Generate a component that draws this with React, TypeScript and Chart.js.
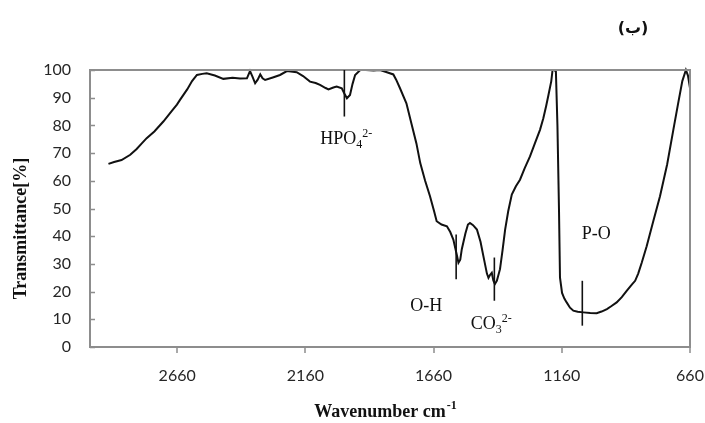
import React, { useEffect, useRef } from 'react';
import { Chart, registerables } from 'chart.js';

Chart.register(...registerables);

// FTIR spectrum: wavenumber (cm-1) against transmittance (%)
const wavenumbers = [
  2928, 2906, 2877, 2843, 2818, 2798, 2779, 2749, 2714, 2680, 2661, 2649, 2621, 2602, 2583, 2562,
  2545, 2513, 2480, 2444, 2415, 2388, 2376, 2366, 2356, 2346, 2336, 2327, 2317, 2287, 2259, 2232,
  2209, 2194, 2169, 2142, 2120, 2103, 2081, 2070, 2051, 2038, 2018, 2008, 1998, 1986, 1976, 1966,
  1946, 1924, 1894, 1869, 1845, 1817, 1806, 1791, 1766, 1746, 1727, 1712, 1693, 1674, 1658, 1648,
  1629, 1608, 1595, 1583, 1570, 1563, 1556, 1550, 1536, 1526, 1518, 1506, 1491, 1477, 1466, 1452,
  1446, 1440, 1433, 1427, 1421, 1413, 1401, 1391, 1381, 1369, 1355, 1339, 1323, 1305, 1284, 1265,
  1245, 1232, 1221, 1212, 1201, 1196, 1190, 1183, 1177, 1171, 1167, 1159, 1150, 1141, 1128, 1115,
  1098, 1076, 1049, 1024, 1005, 984, 966, 946, 926, 907, 887, 874, 862, 848, 829, 803,
  777, 749, 725, 705, 690, 676, 668, 660,
];

const transmittance = [
  66.1, 66.8, 67.5, 69.4, 71.5, 73.5, 75.4, 77.8, 81.4, 85.3, 87.5, 89.2, 93.0, 96.0, 98.2, 98.6,
  98.8, 98.0, 96.8, 97.2, 96.9, 97.0, 99.6, 97.5, 95.2, 96.5, 98.4, 97.0, 96.4, 97.3, 98.2, 99.6,
  99.4, 99.2, 97.8, 95.8, 95.3, 94.6, 93.5, 93.0, 93.7, 94.0, 93.4, 91.5, 89.8, 91.0, 95.0, 98.2,
  100, 100, 99.8, 100, 99.3, 98.4, 96.5, 93.4, 88.0, 80.5, 73.5, 66.4, 60.0, 54.4, 49.0, 45.4,
  44.2, 43.6, 41.5, 38.8, 33.5, 30.4, 31.5, 35.3, 41.0, 44.2, 44.8, 44.0, 42.4, 38.0, 32.9, 26.5,
  25.0, 26.0, 26.8, 24.0, 22.7, 24.0, 28.1, 35.0, 42.4, 49.0, 55.0, 58.0, 60.4, 64.5, 68.8, 73.5,
  78.4, 82.6, 87.0, 91.0, 96.0, 100, 100, 99.5, 80, 50, 25, 19.5, 17.5, 16.1, 14.2, 13.1,
  12.7, 12.5, 12.3, 12.2, 12.8, 13.7, 14.8, 16.1, 18.0, 20.3, 22.5, 23.9, 26.5, 30.5, 36.4, 45.5,
  54.4, 66.0, 78.4, 88.6, 96.0, 100, 98.0, 93.5,
];

const xTickValues = [2660, 2160, 1660, 1160, 660];
const xMin = 660;
const xMax = 3000;
const yMin = 0;
const yMax = 100;
const yStep = 10;

// Band assignments: "_" marks a one-character subscript, "^" starts a superscript
const bandLabels = ['HPO_4^2-', 'O-H', 'CO_3^2-', 'P-O'];
const bandWavenumbers = [2008, 1572, 1423, 1080];
const bandLineTop = [100, 40.6, 32.3, 23.9];
const bandLineBottom = [83.2, 24.5, 16.7, 7.7];

const panelLabel = '(ب)';
const xTitle = 'Wavenumber cm';
const xTitleSup = '-1';
const yTitle = 'Transmittance[%]';

const AXIS_COLOR = '#8d8d8d';
const TEXT_COLOR = '#262626';
const SERIF = '"Liberation Serif", "Times New Roman", serif';
const SANS = 'Lato, "Open Sans", sans-serif';

// where each band label sits relative to its marker line (px)
const labelPlacement = [
  { anchor: 'bottom', dx: 2, dy: 23 },
  { anchor: 'bottom', dx: -30, dy: 27 },
  { anchor: 'bottom', dx: -3, dy: 24 },
  { anchor: 'top', dx: 14, dy: -47 },
];

type Part = { text: string; kind: 'normal' | 'sub' | 'sup' };

function parseLabel(label: string): Part[] {
  const parts: Part[] = [];
  let buf = '';
  for (let i = 0; i < label.length; i++) {
    const c = label[i];
    if (c === '_') {
      if (buf) parts.push({ text: buf, kind: 'normal' });
      buf = '';
      parts.push({ text: label[i + 1], kind: 'sub' });
      i++;
    } else if (c === '^') {
      if (buf) parts.push({ text: buf, kind: 'normal' });
      buf = '';
      parts.push({ text: label.slice(i + 1), kind: 'sup' });
      break;
    } else {
      buf += c;
    }
  }
  if (buf) parts.push({ text: buf, kind: 'normal' });
  return parts;
}

function drawRich(ctx: CanvasRenderingContext2D, parts: Part[], cx: number, cy: number, size: number) {
  const big = `${size}px ${SERIF}`;
  const small = `${Math.round(size * 0.68)}px ${SERIF}`;
  const widths = parts.map((p) => {
    ctx.font = p.kind === 'normal' ? big : small;
    return ctx.measureText(p.text).width;
  });
  const total = widths.reduce((a, b) => a + b, 0);
  let x = cx - total / 2;
  ctx.textAlign = 'left';
  ctx.textBaseline = 'middle';
  parts.forEach((p, i) => {
    ctx.font = p.kind === 'normal' ? big : small;
    const off = p.kind === 'sub' ? size * 0.3 : p.kind === 'sup' ? -size * 0.33 : 0;
    ctx.fillText(p.text, x, cy + off);
    x += widths[i];
  });
}

const decorPlugin = {
  id: 'decor',
  afterDatasetsDraw(chart: Chart) {
    const { ctx, chartArea: a } = chart;
    const x = chart.scales.x;
    const y = chart.scales.y;
    ctx.save();

    // plot frame
    ctx.strokeStyle = AXIS_COLOR;
    ctx.lineWidth = 2;
    ctx.strokeRect(a.left, a.top, a.right - a.left, a.bottom - a.top);

    // inner tick marks on the y axis, outer ones on the x axis
    ctx.lineWidth = 1.5;
    ctx.beginPath();
    for (let v = yMin; v <= yMax; v += yStep) {
      const py = Math.round(y.getPixelForValue(v)) + 0.5;
      ctx.moveTo(a.left, py);
      ctx.lineTo(a.left + 5, py);
    }
    xTickValues.forEach((v) => {
      const px = Math.round(x.getPixelForValue(v));
      ctx.moveTo(px, a.bottom);
      ctx.lineTo(px, a.bottom + 6);
    });
    ctx.stroke();

    // band marker lines and labels
    ctx.strokeStyle = '#111';
    ctx.fillStyle = '#111';
    ctx.lineWidth = 1.6;
    bandLabels.forEach((label, i) => {
      const px = x.getPixelForValue(bandWavenumbers[i]);
      const pTop = y.getPixelForValue(bandLineTop[i]);
      const pBot = y.getPixelForValue(bandLineBottom[i]);
      ctx.beginPath();
      ctx.moveTo(px, pTop);
      ctx.lineTo(px, pBot);
      ctx.stroke();
      const pl = labelPlacement[i];
      const base = pl.anchor === 'top' ? pTop : pBot;
      drawRich(ctx, parseLabel(label), px + pl.dx, base + pl.dy, 18);
    });
    ctx.restore();
  },
  afterDraw(chart: Chart) {
    const { ctx, chartArea: a } = chart;
    ctx.save();
    ctx.fillStyle = '#111';

    // y axis title
    ctx.font = `bold 18px ${SERIF}`;
    ctx.textAlign = 'center';
    ctx.textBaseline = 'middle';
    ctx.translate(21, (a.top + a.bottom) / 2 + 20);
    ctx.rotate(-Math.PI / 2);
    ctx.fillText(yTitle, 0, 0);
    ctx.setTransform(1, 0, 0, 1, 0, 0);

    // x axis title with superscript
    ctx.font = `bold 18px ${SERIF}`;
    const w1 = ctx.measureText(xTitle).width;
    ctx.font = `bold 12px ${SERIF}`;
    const w2 = ctx.measureText(xTitleSup).width;
    const start = 385 - (w1 + w2) / 2;
    ctx.textAlign = 'left';
    ctx.textBaseline = 'middle';
    ctx.font = `bold 18px ${SERIF}`;
    ctx.fillText(xTitle, start, 412);
    ctx.font = `bold 12px ${SERIF}`;
    ctx.fillText(xTitleSup, start + w1 + 1, 406);

    // panel letter
    ctx.font = `bold 16px "DejaVu Sans", sans-serif`;
    ctx.textAlign = 'center';
    ctx.fillText(panelLabel, 633, 29);
    ctx.restore();
  },
};

export default function App() {
  const canvasRef = useRef<HTMLCanvasElement | null>(null);

  useEffect(() => {
    const canvas = canvasRef.current;
    if (!canvas) return;
    const points = wavenumbers.map((w, i) => ({ x: w, y: transmittance[i] }));
    const chart = new Chart(canvas, {
      type: 'line',
      data: {
        datasets: [
          {
            data: points,
            borderColor: '#111',
            borderWidth: 2,
            pointRadius: 0,
            tension: 0,
            fill: false,
            clip: 4,
          },
        ],
      },
      options: {
        animation: false,
        responsive: false,
        devicePixelRatio: 1,
        layout: { padding: { top: 70, right: 15, left: 0, bottom: 0 } },
        plugins: { legend: { display: false }, tooltip: { enabled: false } },
        scales: {
          x: {
            type: 'linear',
            min: xMin,
            max: xMax,
            reverse: true,
            afterBuildTicks: (scale: any) => {
              scale.ticks = xTickValues.map((v) => ({ value: v }));
            },
            afterFit: (scale: any) => {
              scale.height = 76;
              scale.paddingLeft = 0;
              scale.paddingRight = 0;
            },
            grid: { display: false },
            border: { display: false },
            ticks: {
              autoSkip: false,
              maxRotation: 0,
              padding: 11,
              color: TEXT_COLOR,
              font: { family: SANS, size: 16 },
              callback: (v: any) => String(v),
            },
          },
          y: {
            min: yMin,
            max: yMax,
            afterFit: (scale: any) => {
              scale.width = 90;
              scale.paddingTop = 0;
              scale.paddingBottom = 0;
            },
            grid: { display: false },
            border: { display: false },
            ticks: {
              stepSize: yStep,
              padding: 11,
              color: TEXT_COLOR,
              font: { family: SANS, size: 16 },
              callback: (v: any) => String(v),
            },
          },
        },
      },
      plugins: [decorPlugin],
    });
    return () => chart.destroy();
  }, []);

  return (
    <div style={{ position: 'absolute', left: 0, top: 0, width: 705, height: 423, background: '#fff' }}>
      <canvas ref={canvasRef} width={705} height={423} style={{ display: 'block' }} />
    </div>
  );
}
